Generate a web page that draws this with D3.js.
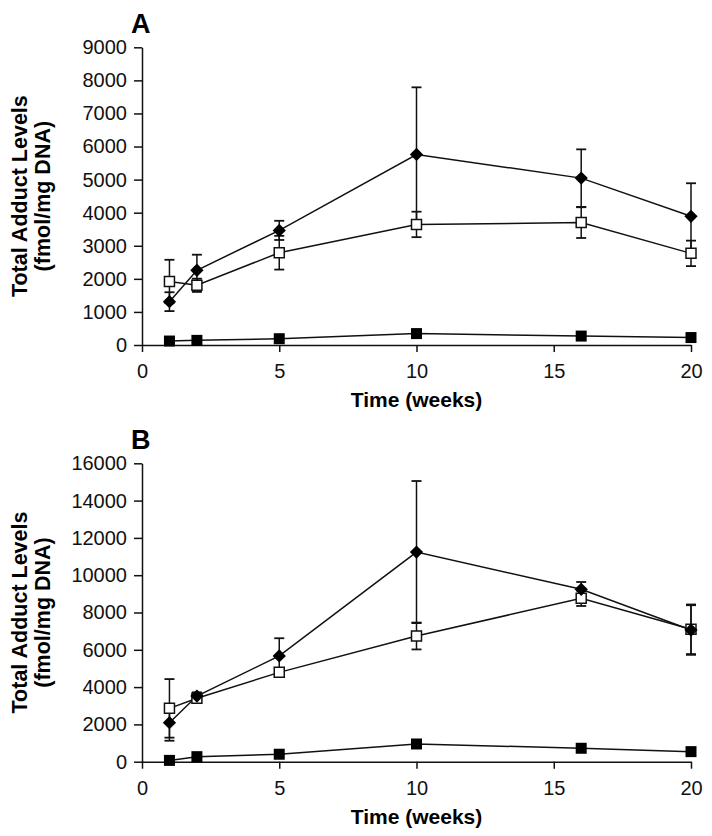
<!DOCTYPE html>
<html>
<head>
<meta charset="utf-8">
<script src="https://cdn.jsdelivr.net/npm/d3@7"></script>
<style>
  body { margin: 0; background: #fff; }
  svg { display: block; }
  text { font-family: "Liberation Sans", Arial, sans-serif; }
</style>
</head>
<body>
<svg id="chart" width="712" height="836"></svg>
<script>
const weeks = [1, 2, 5, 10, 16, 20];
const xTicks = [0, 5, 10, 15, 20];

// panel A
const diamondA = [1310, 2260, 3465, 5760, 5045, 3890];
const diamondA_sd = [285, 470, 290, 2030, 870, 1000];
const openA = [1920, 1805, 2790, 3645, 3700, 2770];
const openA_sd = [656, 200, 510, 385, 465, 385];
const filledA = [120, 140, 190, 345, 270, 225];
const yTicksA = [0, 1000, 2000, 3000, 4000, 5000, 6000, 7000, 8000, 9000];

// panel B
const diamondB = [2090, 3520, 5670, 11240, 9245, 7060];
const diamondB_sd = [965, 200, 950, 3810, 390, 1330];
const openB = [2860, 3400, 4790, 6740, 8760, 7100];
const openB_sd = [1570, 150, 200, 720, 410, 1330];
const filledB = [70, 270, 400, 950, 720, 540];
const yTicksB = [0, 2000, 4000, 6000, 8000, 10000, 12000, 14000, 16000];

const svg = d3.select("#chart");
const left = 142, right = 691;

function drawPanel(p) {
    const x = d3.scaleLinear().domain([0, 20]).range([left, right]);
    const y = d3.scaleLinear().domain([0, p.yMax]).range([p.bottom, p.top]);
    const g = svg.append("g");

    const yAxis = g.append("g")
        .attr("transform", `translate(${left},0)`)
        .call(d3.axisLeft(y).tickValues(p.yTicks).tickFormat(d3.format("d"))
            .tickSize(8).tickPadding(7).tickSizeOuter(0));
    const xAxis = g.append("g")
        .attr("transform", `translate(0,${p.bottom})`)
        .call(d3.axisBottom(x).tickValues(xTicks).tickFormat(d3.format("d"))
            .tickSize(7).tickPadding(12).tickSizeOuter(0));
    [yAxis, xAxis].forEach(a => {
        a.attr("font-size", 20).attr("font-family", null);
        a.selectAll("path, line").attr("stroke", "#111").attr("stroke-width", 1.5);
        a.selectAll("text").attr("fill", "#111");
    });

    // panel letter
    g.append("text").attr("x", 131).attr("y", p.top - 14)
        .attr("font-size", 27).attr("font-weight", "bold").text(p.letter);

    // axis titles
    g.append("text").attr("x", (left + right) / 2).attr("y", p.bottom + 62)
        .attr("text-anchor", "middle").attr("font-size", 21).attr("font-weight", "bold")
        .text("Time (weeks)");
    const cy = (p.top + p.bottom) / 2;
    const yt = g.append("text").attr("transform", `translate(27,${cy}) rotate(-90)`)
        .attr("text-anchor", "middle").attr("font-size", 21.5).attr("font-weight", "bold");
    yt.append("tspan").attr("x", 0).attr("y", 0).text("Total Adduct Levels");
    yt.append("tspan").attr("x", 0).attr("y", 23).text("(fmol/mg DNA)");

    const line = d3.line().x((d, i) => x(weeks[i])).y(d => y(d));
    [p.filled, p.open, p.diamond].forEach(s => {
        g.append("path").attr("d", line(s)).attr("fill", "none")
            .attr("stroke", "#111").attr("stroke-width", 1.5);
    });

    // error bars
    [[p.open, p.open_sd], [p.diamond, p.diamond_sd]].forEach(([vals, sd]) => {
        vals.forEach((v, i) => {
            const cx = x(weeks[i]);
            const y1 = y(v + sd[i]), y2 = y(v - sd[i]);
            g.append("line").attr("x1", cx).attr("x2", cx).attr("y1", y1).attr("y2", y2)
                .attr("stroke", "#111").attr("stroke-width", 1.5);
            [y1, y2].forEach(yy => {
                g.append("line").attr("x1", cx - 5).attr("x2", cx + 5).attr("y1", yy).attr("y2", yy)
                    .attr("stroke", "#111").attr("stroke-width", 1.8);
            });
        });
    });

    g.selectAll(".filled").data(p.filled).join("path")
        .attr("transform", (d, i) => `translate(${x(weeks[i])},${y(d)})`)
        .attr("d", d3.symbol(d3.symbolSquare).size(121)()).attr("fill", "#000");
    g.selectAll(".open").data(p.open).join("path")
        .attr("transform", (d, i) => `translate(${x(weeks[i])},${y(d)})`)
        .attr("d", d3.symbol(d3.symbolSquare).size(100)())
        .attr("fill", "#fff").attr("stroke", "#111").attr("stroke-width", 1.5);
    g.selectAll(".diamond").data(p.diamond).join("path")
        .attr("transform", (d, i) => `translate(${x(weeks[i])},${y(d)}) rotate(45)`)
        .attr("d", d3.symbol(d3.symbolSquare).size(88)()).attr("fill", "#000");
}

drawPanel({ letter: "A", top: 47.3, bottom: 345, yMax: 9000, yTicks: yTicksA,
    diamond: diamondA, diamond_sd: diamondA_sd, open: openA, open_sd: openA_sd, filled: filledA });
drawPanel({ letter: "B", top: 463.3, bottom: 761.7, yMax: 16000, yTicks: yTicksB,
    diamond: diamondB, diamond_sd: diamondB_sd, open: openB, open_sd: openB_sd, filled: filledB });
</script>
</body>
</html>
